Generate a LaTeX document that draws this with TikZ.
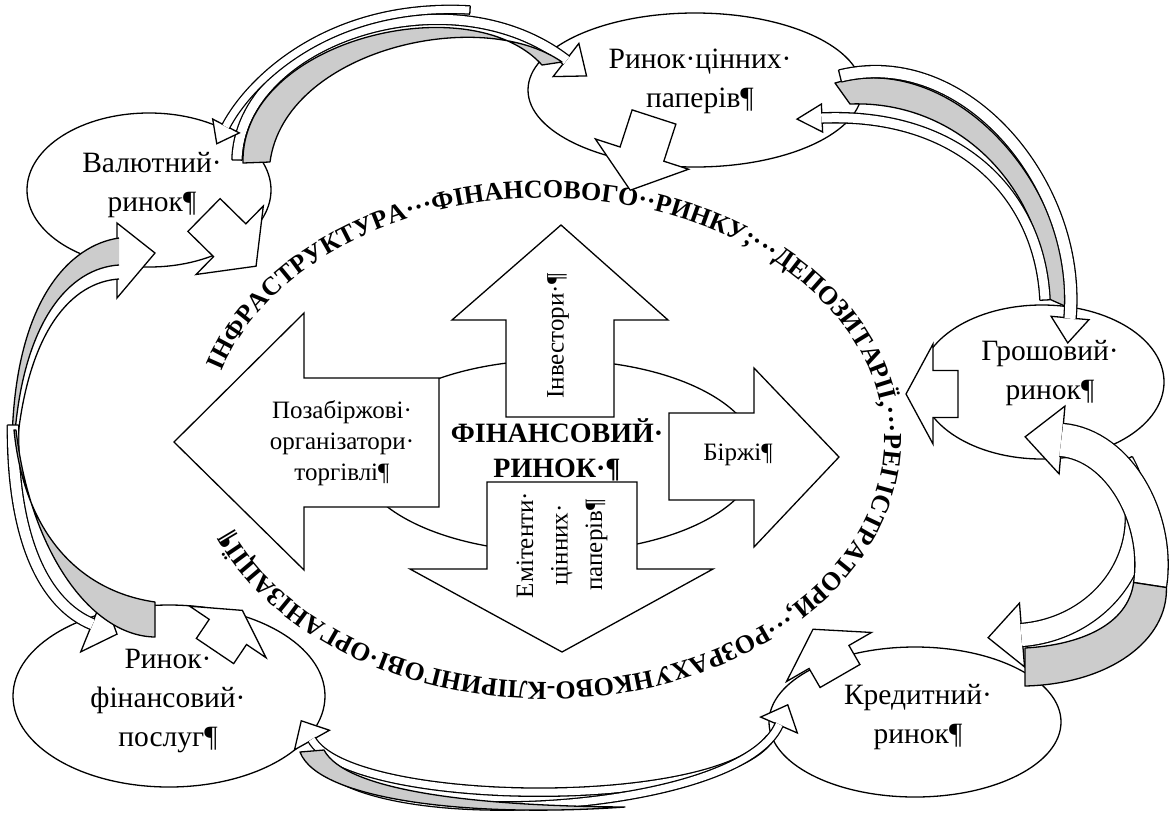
\documentclass[tikz,border=0pt]{standalone}
\usepackage{fontspec}
\setmainfont{Liberation Serif}
\usetikzlibrary{calc,shapes.geometric,decorations.text}

\newcommand\mktfont{\fontsize{29.5}{39}\selectfont}
\newcommand\innfont{\fontsize{25}{31}\selectfont}
\newcommand\emifont{\fontsize{25}{34.5}\selectfont}
\newcommand\cenfont{\fontsize{28}{35}\selectfont\bfseries}
\newcommand\ringfnt{\fontsize{26}{26}\selectfont\bfseries}

\tikzset{
  arrline/.style={draw=black, line width=1.3pt, line join=miter, miter limit=6},
  greyband/.style={fill=gray!40, draw=black, line width=1.3pt, line join=round},
  mkt/.style={draw=black, line width=1.3pt, ellipse, fill=white, inner sep=0pt},
}

% curved band arrow: S, C1, C2, E, band width, head half width, head length
\newcommand{\cband}[7]{%
  \filldraw[arrline, fill=white] ($(#4)!#6!90:(#3)$) -- ($(#4)!#7!180:(#3)$) -- ($(#4)!#6!-90:(#3)$) -- cycle;
  \draw[arrline, double=white, double distance=#5, shorten >=-0.7pt] (#1) .. controls (#2) and (#3) .. (#4);
  \draw[arrline] ($(#1)!#5/2+0.6pt!90:(#2)$) -- ($(#1)!#5/2+0.6pt!-90:(#2)$);
}
% straight block arrow: tail centre, angle, shaft length, shaft half, head half, head length
\newcommand{\blockarr}[6]{%
  \filldraw[arrline, fill=white, shift={(#1)}, rotate=#2] (0,-#4) -- (#3,-#4) -- (#3,-#5) -- ({#3+#6},0) -- (#3,#5) -- (#3,#4) -- (0,#4) -- cycle;
}

\begin{document}
\begin{tikzpicture}[x=1pt, y=-1pt]
\useasboundingbox (0,0) rectangle (1175,812);
\fill[white] (0,0) rectangle (1175,812);

% ---- ring text
\path[decorate, decoration={text along path, text align={fit to path},
  text={|\ringfnt|ІНФРАСТРУКТУРА···ФІНАНСОВОГО··РИНКУ;···ДЕПОЗИТАРІЇ,···РЕГІСТРАТОРИ,···РОЗРАХУНКОВО-КЛІРИНГОВІ·ОРГАНІЗАЦІЇ¶}}]
  ($(546,440)+(196.5:338 and 242)$) arc[start angle=196.5, end angle=517.5, x radius=338, y radius=242];

% ---- centre
\node[draw, line width=1.3pt, ellipse, minimum width=400pt, minimum height=192pt, inner sep=0pt] (fin) at (557,456) {};
\filldraw[arrline, fill=white] (506,417) -- (506,320) -- (452,320) -- (561,225) -- (668,320) -- (614,320) -- (614,417) -- cycle;
\filldraw[arrline, fill=white] (439,378) -- (304,378) -- (304,313) -- (174,442) -- (304,570) -- (304,507) -- (439,507) -- cycle;
\filldraw[arrline, fill=white] (669,413) -- (754,413) -- (754,368) -- (839,457) -- (754,547) -- (754,500) -- (669,500) -- cycle;
\filldraw[arrline, fill=white] (487,482) -- (487,569) -- (410,569) -- (562,652) -- (713,569) -- (637,569) -- (637,482) -- cycle;

\node[font=\cenfont, align=center] (tfin) at (557,450) {ФІНАНСОВИЙ·\\РИНОК·¶};
\node[font=\innfont, rotate=90] (tinv) at (558,336) {Інвестори·¶};
\node[font=\innfont, align=center] (tpoz) at (342,443) {Позабіржові·\\організатори·\\торгівлі¶};
\node[font=\innfont] (tbir) at (738,455) {Біржі¶};
\node[font=\emifont, rotate=90, align=center] (temi) at (562,545) {Емітенти·\\цінних·\\паперів¶};

% ---- market ellipses
\node[mkt, minimum width=244pt, minimum height=154pt] (val) at (149,190) {};
\node[mkt, minimum width=334pt, minimum height=154pt] (rcp) at (695,90) {};
\node[mkt, minimum width=244pt, minimum height=154pt] (gro) at (1042,382) {};
\node[mkt, minimum width=292pt, minimum height=150pt] (kre) at (915,722) {};
\node[mkt, minimum width=312pt, minimum height=182pt] (rfp) at (169,696) {};

% ---- small block arrows towards the infrastructure ring
\blockarr{204,215}{-44.5}{36}{23}{48}{37}
\blockarr{654,117}{-108}{39}{23}{49}{38}
\blockarr{958,394}{180}{25}{23.5}{50}{27}
\blockarr{840,676}{120}{22}{23}{49}{32}
\blockarr{215,651}{56}{23}{22.5}{46}{26}

% ---- market labels
\node[font=\mktfont, align=center] (tval) at (152,185) {Валютний·\\ринок¶};
\node[font=\mktfont, align=center] (trcp) at (700,81) {Ринок·цінних·\\паперів¶};
\node[font=\mktfont, align=center] (tgro) at (1050,373) {Грошовий·\\ринок¶};
\node[font=\mktfont, align=center] (tkre) at (918,717) {Кредитний·\\ринок¶};
\node[font=\mktfont, align=center] (trfp) at (168,701) {Ринок·\\фінансовий·\\послуг¶};

% ---- connection 1 (top)
\cband{237,160}{240,40}{450,-30}{566,60}{9pt}{21pt}{26pt}
\filldraw[greyband] (243,163) .. controls (240,40) and (470,-15) .. (542,65) -- (562,62) .. controls (480,5) and (285,50) .. (270,162) -- cycle;
\cband{470,10}{330,2}{250,80}{226,126}{7pt}{15pt}{20pt}

% ---- connection 2 (upper right)
\filldraw[greyband] (835,83) .. controls (950,50) and (1070,180) .. (1067,307) -- (1047,298) .. controls (1045,190) and (960,100) .. (850,104) -- cycle;
\cband{1045,300}{1040,195}{960,112}{822,118}{9pt}{14pt}{25pt}
\cband{840,76}{965,45}{1082,185}{1070,318}{11pt}{19pt}{25pt}

% ---- connection 3 (right)
\cband{1122,462}{1165,540}{1110,628}{1022,635}{22pt}{32pt}{34pt}
\cband{1150,585}{1160,520}{1120,445}{1062,440}{32pt}{34pt}{37pt}
\filldraw[greyband] (1133.6,582.5) -- (1166.4,587.5) .. controls (1168,640) and (1110,684) .. (1025,686) -- (1025,648) .. controls (1080,645) and (1128,625) .. (1133.6,582.5) -- cycle;

% ---- connection 4 (bottom)
\cband{770,738}{720,812}{350,808}{312,740}{7pt}{20pt}{22pt}
\cband{318,760}{370,835}{740,815}{779,725}{7pt}{20pt}{22pt}
\filldraw[greyband] (300,752) .. controls (318,800) and (470,818) .. (625,807) .. controls (470,806) and (345,790) .. (324,750) -- cycle;

% ---- connection 5 (left)
\filldraw[arrline, fill=white] (117,223) -- (155,253) -- (117,298) -- cycle;
\fill[white] (119,238) .. controls (70,245) and (14,300) .. (12,445) -- (17,445) .. controls (28,330) and (72,282) .. (119,279) -- cycle;
\fill[gray!40] (119,238) .. controls (70,245) and (14,300) .. (12,445) -- (14,445) .. controls (22,320) and (70,268) .. (119,265) -- cycle;
\draw[arrline] (119,238) .. controls (70,245) and (14,300) .. (12,445);
\draw[arrline] (119,265) .. controls (70,268) and (22,320) .. (14,445);
\draw[arrline] (119,279) .. controls (72,282) and (28,330) .. (17,445);
\cband{13,425}{12,540}{45,605}{92,624}{10pt}{30pt}{27pt}
\filldraw[greyband] (155,602) .. controls (85,592) and (25,540) .. (14,430) -- (16,430) .. controls (30,550) and (90,636) .. (155,637) -- cycle;

\end{tikzpicture}
\end{document}
